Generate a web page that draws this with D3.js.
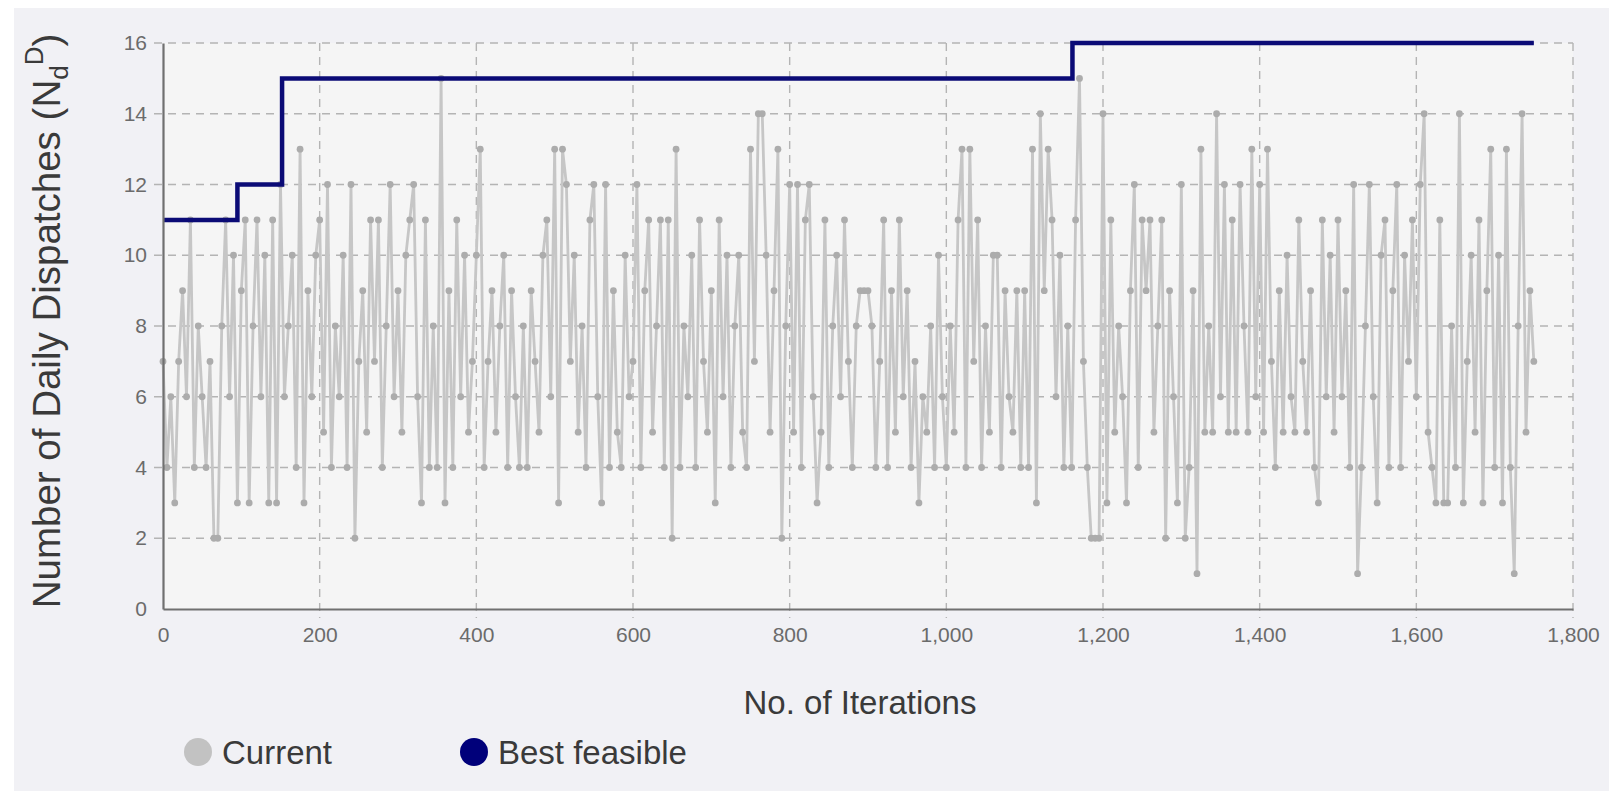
<!DOCTYPE html>
<html>
<head>
<meta charset="utf-8">
<script src="https://cdn.jsdelivr.net/npm/d3@7"></script>
<style>
  html, body { margin: 0; padding: 0; background: #ffffff; }
  svg { display: block; font-family: "Liberation Sans", Arial, sans-serif; }
</style>
</head>
<body>
<svg id="chart" width="1609" height="791"></svg>
<script>
// iteration spacing of the "Current" samples
const iterStep = 5;

// Current solution value, one sample every iterStep iterations (0 .. 1750)
const currentValues = [
  7, 4, 6, 3, 7, 9, 6, 11, 4, 8, 6, 4, 7, 2, 2, 8, 11, 6, 10, 3,
  9, 11, 3, 8, 11, 6, 10, 3, 11, 3, 12, 6, 8, 10, 4, 13, 3, 9, 6, 10,
  11, 5, 12, 4, 8, 6, 10, 4, 12, 2, 7, 9, 5, 11, 7, 11, 4, 8, 12, 6,
  9, 5, 10, 11, 12, 6, 3, 11, 4, 8, 4, 15, 3, 9, 4, 11, 6, 10, 5, 7,
  10, 13, 4, 7, 9, 5, 8, 10, 4, 9, 6, 4, 8, 4, 9, 7, 5, 10, 11, 6,
  13, 3, 13, 12, 7, 10, 5, 8, 4, 11, 12, 6, 3, 12, 4, 9, 5, 4, 10, 6,
  7, 12, 4, 9, 11, 5, 8, 11, 4, 11, 2, 13, 4, 8, 6, 10, 4, 11, 7, 5,
  9, 3, 11, 6, 10, 4, 8, 10, 5, 4, 13, 7, 14, 14, 10, 5, 9, 13, 2, 8,
  12, 5, 12, 4, 11, 12, 6, 3, 5, 11, 4, 8, 10, 6, 11, 7, 4, 8, 9, 9,
  9, 8, 4, 7, 11, 4, 9, 5, 11, 6, 9, 4, 7, 3, 6, 5, 8, 4, 10, 6,
  4, 8, 5, 11, 13, 4, 13, 7, 11, 4, 8, 5, 10, 10, 4, 9, 6, 5, 9, 4,
  9, 4, 13, 3, 14, 9, 13, 11, 6, 10, 4, 8, 4, 11, 15, 7, 4, 2, 2, 2,
  14, 3, 11, 5, 8, 6, 3, 9, 12, 4, 11, 9, 11, 5, 8, 11, 2, 9, 6, 3,
  12, 2, 4, 9, 1, 13, 5, 8, 5, 14, 6, 12, 5, 11, 5, 12, 8, 5, 13, 6,
  12, 5, 13, 7, 4, 9, 5, 10, 6, 5, 11, 7, 5, 9, 4, 3, 11, 6, 10, 5,
  11, 6, 9, 4, 12, 1, 4, 8, 12, 6, 3, 10, 11, 4, 9, 12, 4, 10, 7, 11,
  6, 12, 14, 5, 4, 3, 11, 3, 3, 8, 4, 14, 3, 7, 10, 5, 11, 3, 9, 13,
  4, 10, 3, 13, 4, 1, 8, 14, 5, 9, 7
];

// Best feasible solution (step line)
const bestIterations = [0, 95, 152, 1161, 1750];
const bestValues = [11, 12, 15, 16, 16];

const xTicks = [0, 200, 400, 600, 800, 1000, 1200, 1400, 1600, 1800];
const yTicks = [0, 2, 4, 6, 8, 10, 12, 14, 16];

const legendLabels = ["Current", "Best feasible"];
const legendColors = ["#c2c2c2", "#00007a"];

const svg = d3.select("#chart");

// outer panel
svg.append("rect")
  .attr("x", 14).attr("y", 8)
  .attr("width", 1595).attr("height", 783)
  .attr("fill", "#f1f1f5");

const x = d3.scaleLinear().domain([0, 1800]).range([163, 1573]);
const y = d3.scaleLinear().domain([0, 16]).range([609, 43]);

// plot area background
svg.append("rect")
  .attr("x", x(0)).attr("y", y(16))
  .attr("width", x(1800) - x(0)).attr("height", y(0) - y(16))
  .attr("fill", "#f5f5f5");

// grid
const grid = svg.append("g").attr("class", "grid");
grid.selectAll(".hgrid")
  .data(yTicks.filter(d => d > 0))
  .join("line")
  .attr("x1", x(0) - 9).attr("x2", x(1800))
  .attr("y1", d => y(d)).attr("y2", d => y(d))
  .attr("stroke", "#b4b4b4")
  .attr("stroke-width", 1.4)
  .attr("stroke-dasharray", "8,6");
grid.selectAll(".vgrid")
  .data(xTicks.filter(d => d > 0))
  .join("line")
  .attr("x1", d => x(d)).attr("x2", d => x(d))
  .attr("y1", y(16)).attr("y2", y(0) + 9)
  .attr("stroke", "#b4b4b4")
  .attr("stroke-width", 1.4)
  .attr("stroke-dasharray", "8,6");

// Current series
const currentData = currentValues.map((v, i) => ({ it: i * iterStep, v: v }));

const line = d3.line()
  .x(d => x(d.it))
  .y(d => y(d.v));

svg.append("path")
  .datum(currentData)
  .attr("d", line)
  .attr("fill", "none")
  .attr("stroke", "#c6c6c6")
  .attr("stroke-width", 2.8);

svg.append("g")
  .selectAll("circle")
  .data(currentData)
  .join("circle")
  .attr("cx", d => x(d.it))
  .attr("cy", d => y(d.v))
  .attr("r", 3.4)
  .attr("fill", "#acacac");

// Best feasible step line
const bestData = bestIterations.map((it, i) => ({ it: it, v: bestValues[i] }));
svg.append("path")
  .datum(bestData)
  .attr("d", d3.line().x(d => x(d.it)).y(d => y(d.v)).curve(d3.curveStepAfter))
  .attr("fill", "none")
  .attr("stroke", "#0b0b76")
  .attr("stroke-width", 4.5);

// axes
const xAxis = svg.append("g")
  .attr("transform", `translate(0,${y(0)})`)
  .call(d3.axisBottom(x).tickValues(xTicks).tickFormat(d3.format(",")).tickSize(0).tickPadding(18));
const yAxis = svg.append("g")
  .attr("transform", `translate(${x(0)},0)`)
  .call(d3.axisLeft(y).tickValues(yTicks).tickSize(0).tickPadding(16));

[xAxis, yAxis].forEach(a => {
  a.select(".domain").attr("stroke", "#707070").attr("stroke-width", 2.2);
  a.selectAll("text")
    .attr("fill", "#6b6b6b")
    .style("font-size", "21px")
    .style("font-family", "'Liberation Sans', Arial, sans-serif");
});

// axis titles
svg.append("text")
  .attr("x", 860).attr("y", 714)
  .attr("text-anchor", "middle")
  .attr("fill", "#3a3a3a")
  .style("font-size", "33px")
  .text("No. of Iterations");

const yTitle = svg.append("text")
  .attr("transform", "translate(60,321) rotate(-90)")
  .attr("text-anchor", "middle")
  .attr("fill", "#3a3a3a")
  .style("font-size", "38.5px");
yTitle.append("tspan").text("Number of Daily Dispatches (N");
yTitle.append("tspan").attr("dy", 8).style("font-size", "26px").text("d");
yTitle.append("tspan").attr("dy", -25).style("font-size", "26px").text("D");
yTitle.append("tspan").attr("dy", 17).text(")");

// legend
const legendX = [198, 474];
const legend = svg.append("g");
legend.selectAll("circle")
  .data(legendLabels)
  .join("circle")
  .attr("cx", (d, i) => legendX[i])
  .attr("cy", 752)
  .attr("r", 14)
  .attr("fill", (d, i) => legendColors[i]);
legend.selectAll("text")
  .data(legendLabels)
  .join("text")
  .attr("x", (d, i) => legendX[i] + 24)
  .attr("y", 764)
  .attr("fill", "#3a3a3a")
  .style("font-size", "33px")
  .text(d => d);
</script>
</body>
</html>
